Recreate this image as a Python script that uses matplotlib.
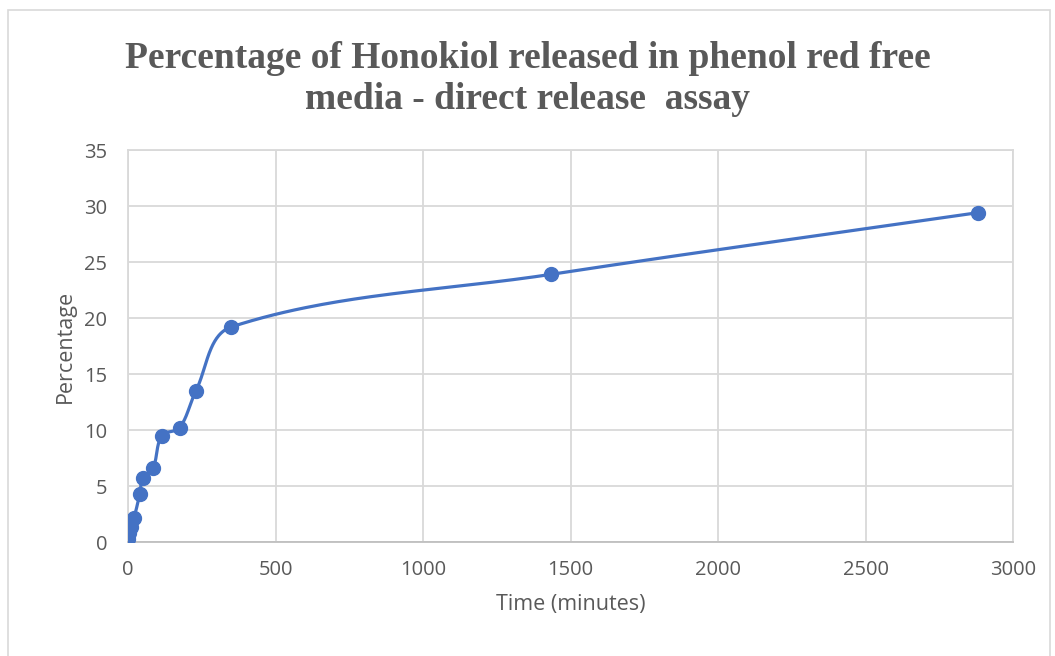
import numpy as np
import matplotlib
matplotlib.use('Agg')
import matplotlib.pyplot as plt
from matplotlib.patches import Rectangle

# data
time_min = [0, 5, 10, 20, 40, 50, 85, 115, 175, 230, 350, 1435, 2880]
percent = [0.3, 0.8, 1.3, 2.1, 4.3, 5.7, 6.6, 9.5, 10.2, 13.5, 19.2, 23.9, 29.4]
x_ticks = [0, 500, 1000, 1500, 2000, 2500, 3000]
y_ticks = [0, 5, 10, 15, 20, 25, 30, 35]

title = 'Percentage of Honokiol released in phenol red free\nmedia - direct release  assay'
blue = '#4472C4'
grey_text = '#595959'
grid_col = '#d9d9d9'


def smooth_curve(x, y, steps=60):
    # smoothed line through the points: cubic bezier segments, tangent from
    # neighbours, handle length scaled by segment length (no loops)
    pts = np.column_stack([np.asarray(x, float), np.asarray(y, float)])
    n = len(pts)
    tang = np.zeros_like(pts)
    for i in range(n):
        a = pts[max(i - 1, 0)]
        b = pts[min(i + 1, n - 1)]
        d = b - a
        tang[i] = d / np.hypot(*d)
    t = np.linspace(0, 1, steps)[:, None]
    out = []
    for i in range(n - 1):
        p0, p3 = pts[i], pts[i + 1]
        seg = np.hypot(*(p3 - p0))
        p1 = p0 + tang[i] * seg / 3
        p2 = p3 - tang[i + 1] * seg / 3
        b = (1 - t) ** 3 * p0 + 3 * (1 - t) ** 2 * t * p1 + 3 * (1 - t) * t ** 2 * p2 + t ** 3 * p3
        out.append(b)
    out = np.vstack(out)
    return out[:, 0], out[:, 1]


fig = plt.figure(figsize=(10.55, 6.56), dpi=100)
fig.patches.append(Rectangle((8 / 1055, -0.05), 1042 / 1055, 1.05 - 10 / 656,
                             transform=fig.transFigure, fill=False,
                             edgecolor='#d9d9d9', linewidth=1.2))

ax = fig.add_axes([128 / 1055, (656 - 542) / 656, 885 / 1055, 392 / 656])

# smooth in pixel proportions so the curve looks like the reference
sx = 885 / 3000
sy = 392 / 35
cx, cy = smooth_curve(np.array(time_min) * sx, np.array(percent) * sy)
ax.plot(cx / sx, cy / sy, color=blue, linewidth=2.3, zorder=3, solid_capstyle='round')
ax.plot(time_min, percent, linestyle='none', marker='o', markersize=10,
        color=blue, markeredgecolor=blue, zorder=4)

ax.set_xlim(0, 3000)
ax.set_ylim(0, 35)
ax.set_xticks(x_ticks)
ax.set_yticks(y_ticks)
ax.grid(True, color=grid_col, linewidth=1.3, zorder=0)
ax.set_axisbelow(True)
for side in ['top', 'right', 'left', 'bottom']:
    ax.spines[side].set_color(grid_col)
    ax.spines[side].set_linewidth(1.3)
ax.spines['bottom'].set_color('#bfbfbf')
ax.tick_params(length=0, labelsize=14.5, labelcolor=grey_text, pad=13)
ax.tick_params(axis='y', pad=15)
for lab in ax.get_xticklabels() + ax.get_yticklabels():
    lab.set_family('Open Sans')

ax.set_xlabel('Time (minutes)', fontsize=15.5, color=grey_text, family='Open Sans', labelpad=10)
ax.set_ylabel('Percentage', fontsize=15.5, color=grey_text, family='Open Sans', labelpad=6)

fig.text(0.5, 1 - 79 / 656, title, ha='center', va='center',
         fontsize=27, fontweight='bold', color=grey_text,
         family='Liberation Serif', linespacing=1.2)

fig.savefig('out.png', dpi=100)
